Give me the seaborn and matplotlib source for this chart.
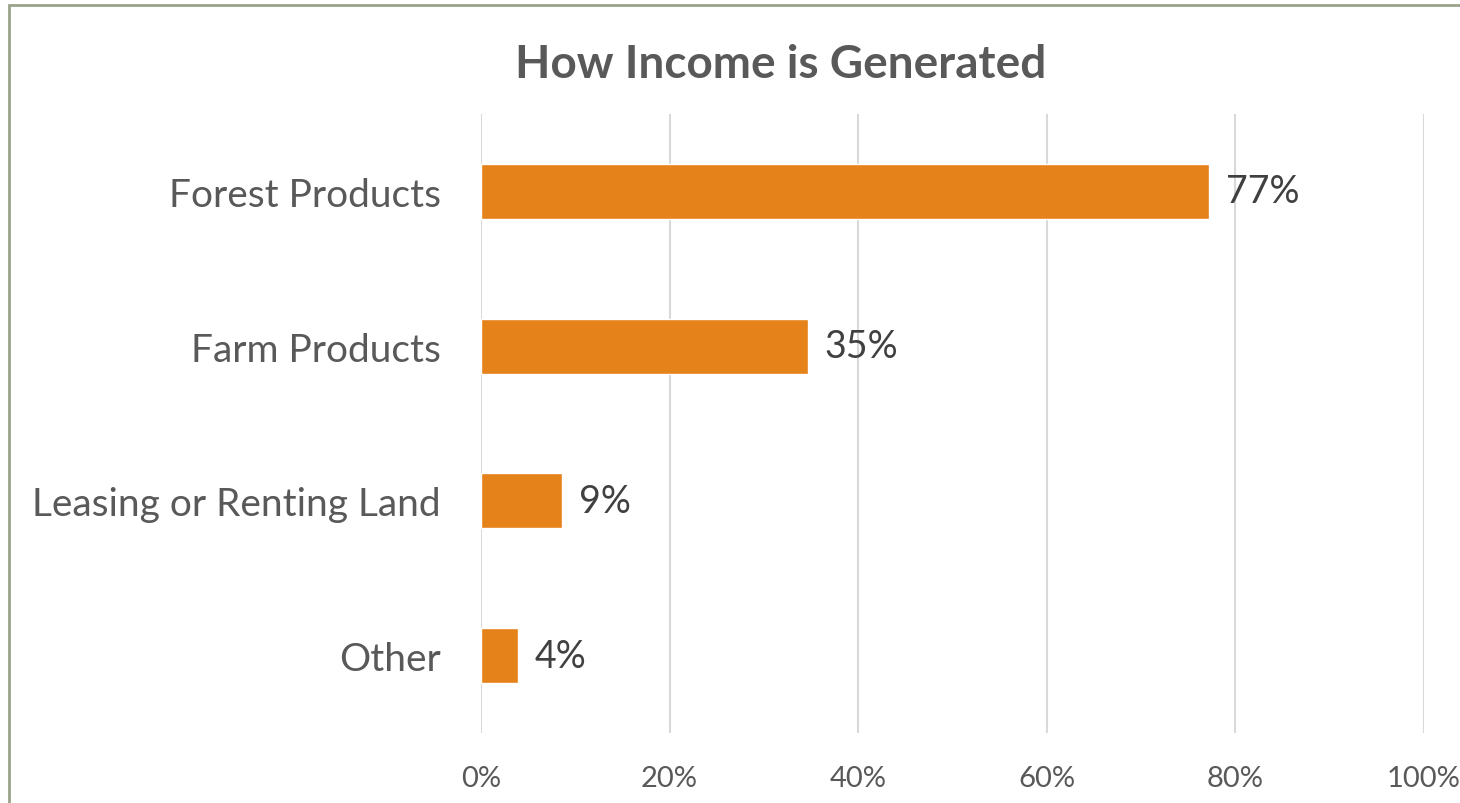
import matplotlib
matplotlib.use("Agg")
import matplotlib.pyplot as plt
import seaborn as sns
import pandas as pd
from matplotlib.patches import Rectangle
from matplotlib.ticker import FuncFormatter

categories = ["Forest Products", "Farm Products", "Leasing or Renting Land", "Other"]
values = [77.2, 34.7, 8.6, 3.9]
labels = ["77%", "35%", "9%", "4%"]
xticks = [0, 20, 40, 60, 80, 100]

df = pd.DataFrame({"category": categories, "value": values})

sns.set_style("white")
plt.rcParams["font.family"] = ["Lato", "DejaVu Sans"]

fig = plt.figure(figsize=(14.6, 8.04), dpi=100)
ax = fig.add_axes([481/1460, 1-734/804, (1424-481)/1460, (734-115)/804])

sns.barplot(data=df, x="value", y="category", orient="h", color="#E6821A",
            width=0.355, saturation=1, ax=ax)

ax.set_xlim(0, 100)
ax.set_ylim(3.5, -0.5)
ax.set_xticks(xticks)
ax.xaxis.set_major_formatter(FuncFormatter(lambda v, p: f"{v:.0f}%"))
ax.grid(axis="x", color="#D9D9D9", linewidth=1.5)
ax.set_axisbelow(True)
for s in ax.spines.values():
    s.set_visible(False)
ax.set_xlabel("")
ax.set_ylabel("")
ax.tick_params(axis="x", length=0, pad=23, labelsize=21, labelcolor="#595959")
ax.tick_params(axis="y", length=0, pad=29, labelsize=28, labelcolor="#595959")

for i, (v, t) in enumerate(zip(values, labels)):
    ax.annotate(t, xy=(v, i), xytext=(12, 0), textcoords="offset points",
                va="center", ha="left", fontsize=27, color="#404040")

fig.text(781/1460, 1-65/804, "How Income is Generated", ha="center", va="center",
         fontsize=33, fontweight="bold", color="#595959")

fig.patches.append(Rectangle((9/1460, -0.1), 1.2, 1-6/804+0.1, transform=fig.transFigure,
                             fill=False, edgecolor="#9AA38A", linewidth=2, zorder=10))

fig.savefig("out.png", dpi=100)
